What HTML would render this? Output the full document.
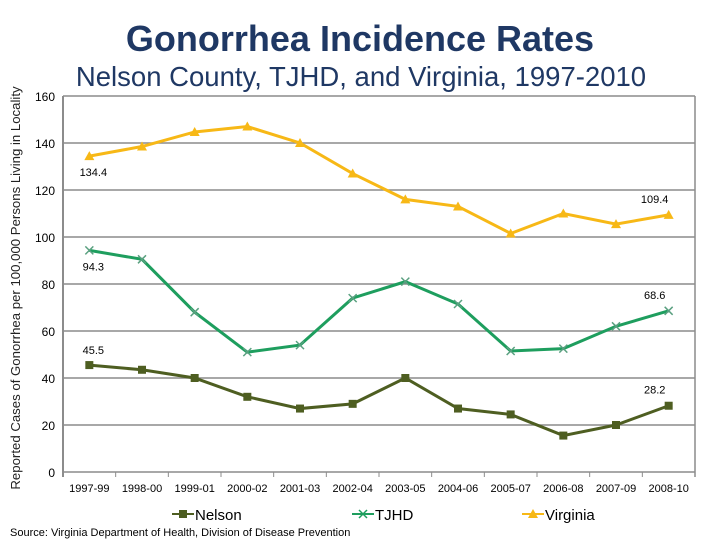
<!DOCTYPE html>
<html><head><meta charset="utf-8"><style>
body{margin:0;background:#fff;width:720px;height:540px;overflow:hidden;font-family:"Liberation Sans",sans-serif}
</style></head><body>
<svg width="720" height="540" font-family="Liberation Sans, sans-serif">
<text x="360" y="51" text-anchor="middle" font-size="36" font-weight="bold" fill="#1f3864">Gonorrhea Incidence Rates</text>
<text x="361" y="86" text-anchor="middle" font-size="27.5" fill="#1f3864">Nelson County, TJHD, and Virginia, 1997-2010</text>
<text transform="translate(20,288) rotate(-90)" text-anchor="middle" font-size="13.2" fill="#222">Reported Cases of Gonorrhea per 100,000 Persons Living in Locality</text>
<g id="grid"></g><g id="series"></g>
<text x="10" y="536" font-size="11" fill="#000">Source: Virginia Department of Health, Division of Disease Prevention</text>
</svg>
<script>
const categories=["1997-99","1998-00","1999-01","2000-02","2001-03","2002-04","2003-05","2004-06","2005-07","2006-08","2007-09","2008-10"];
const yTicks=[0,20,40,60,80,100,120,140,160];
const nelson=[45.5,43.5,40,32,27,29,40,27,24.5,15.5,20,28.2];
const tjhd=[94.3,90.5,68,51,54,74,81,71.5,51.5,52.5,62,68.6];
const virginia=[134.4,138.5,144.7,147,140,127,116,113,101.5,110,105.5,109.4];
const L=63,R=695,T=96,B=472,NS="http://www.w3.org/2000/svg";
const bw=(R-L)/categories.length;
const x=i=>L+bw*(i+0.5), y=v=>B-(v/160)*(B-T);
function mk(p,t,a){const e=document.createElementNS(NS,t);for(const k in a)e.setAttribute(k,a[k]);p.appendChild(e);return e;}
const g=document.getElementById('grid'), s=document.getElementById('series'), svg=document.querySelector('svg');
yTicks.forEach(v=>{const l=mk(g,'line',{x1:L,x2:R,y1:y(v),y2:y(v),stroke:'#8c8c8c','stroke-width':1.5});

const t=mk(g,'text',{x:L-8,y:y(v)+5,'text-anchor':'end','font-size':12,fill:'#000'});t.textContent=v;
});
const ax=mk(g,'line',{x1:L,x2:L,y1:T,y2:B+5,stroke:'#8c8c8c','stroke-width':2});

const rb=mk(g,'line',{x1:R,x2:R,y1:T,y2:B+5,stroke:'#8c8c8c','stroke-width':1.5});

categories.forEach((c,i)=>{const tk=mk(g,'line',{x1:L+bw*(i+1),x2:L+bw*(i+1),y1:B,y2:B+5,stroke:'#8c8c8c'});

const t=mk(g,'text',{x:x(i),y:B+20,'text-anchor':'middle','font-size':11,fill:'#000'});t.textContent=c;
});
function series(data,color,name,marker,firstBelow){
 const pl=mk(s,'polyline',{points:data.map((v,i)=>x(i)+','+y(v)).join(' '),fill:'none',stroke:color,'stroke-width':3});
 
 data.forEach((v,i)=>{const cx=x(i),cy=y(v);let m;
  if(marker==='sq')m=mk(s,'rect',{x:cx-4,y:cy-4,width:8,height:8,fill:color});
  else if(marker==='x')m=mk(s,'path',{d:`M${cx-4} ${cy-4}L${cx+4} ${cy+4}M${cx-4} ${cy+4}L${cx+4} ${cy-4}`,stroke:'#5aa080','stroke-width':1.5});
  else m=mk(s,'path',{d:`M${cx} ${cy-5}L${cx+5} ${cy+4}L${cx-5} ${cy+4}Z`,fill:color});
  });
 const n=data.length-1;
 const labels=[[x(0)+4,y(data[0])+(firstBelow?20:-11),data[0]],[x(n)-14,y(data[n])-12,data[n]]];
 labels.forEach(([tx,ty,v])=>{
  const t=mk(s,'text',{x:tx,y:ty,'text-anchor':'middle','font-size':11,fill:'#000'});t.textContent=v;
  });
}
series(virginia,'#f7b816','virginia','tri',true);
series(tjhd,'#1e9e5e','tjhd','x',true);
series(nelson,'#4e5e21','nelson','sq',false);
const leg=[['Nelson','#4e5e21','sq',172],['TJHD','#1e9e5e','x',352],['Virginia','#f7b816','tri',522]];
leg.forEach(([n,c,m,lx])=>{const gg=mk(svg,'g',{});
 mk(gg,'line',{x1:lx,x2:lx+22,y1:514,y2:514,stroke:c,'stroke-width':2});
 const cx=lx+11,cy=514;
 if(m==='sq')mk(gg,'rect',{x:cx-4,y:cy-4,width:8,height:8,fill:c});
 else if(m==='x')mk(gg,'path',{d:`M${cx-4} ${cy-4}L${cx+4} ${cy+4}M${cx-4} ${cy+4}L${cx+4} ${cy-4}`,stroke:c,'stroke-width':1.5});
 else mk(gg,'path',{d:`M${cx} ${cy-5}L${cx+5} ${cy+4}L${cx-5} ${cy+4}Z`,fill:c});
 const t=mk(gg,'text',{x:lx+23,y:520,'font-size':15,fill:'#000'});t.textContent=n;});
</script>
</body></html>
